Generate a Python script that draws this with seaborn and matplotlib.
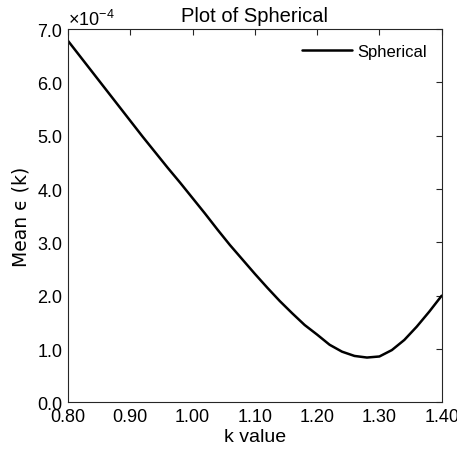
import numpy as np
import pandas as pd
import matplotlib
matplotlib.use("Agg")
import matplotlib.pyplot as plt
import seaborn as sns
from matplotlib.ticker import FuncFormatter, MultipleLocator

k_values = [0.80, 0.82, 0.84, 0.86, 0.88, 0.90, 0.92, 0.94, 0.96, 0.98,
            1.00, 1.02, 1.04, 1.06, 1.08, 1.10, 1.12, 1.14, 1.16, 1.18,
            1.20, 1.22, 1.24, 1.26, 1.28, 1.30, 1.32, 1.34, 1.36, 1.38, 1.40]
mean_eps_e4 = [6.78, 6.48, 6.18, 5.88, 5.58, 5.28, 4.98, 4.69, 4.40, 4.12,
               3.83, 3.54, 3.24, 2.95, 2.68, 2.41, 2.15, 1.90, 1.67, 1.45,
               1.27, 1.08, 0.95, 0.87, 0.84, 0.86, 0.98, 1.17, 1.42, 1.70, 2.00]
series_name = "Spherical"

df = pd.DataFrame({"k": k_values, "eps": np.array(mean_eps_e4) * 1e-4, "series": series_name})

sns.set_style("white")
plt.rcParams['font.family'] = ['Liberation Sans', 'DejaVu Sans']
plt.rcParams['mathtext.fontset'] = 'custom'
plt.rcParams['mathtext.rm'] = 'Liberation Sans'
plt.rcParams['text.color'] = 'black'
plt.rcParams['axes.labelcolor'] = 'black'

fig = plt.figure(figsize=(4.57, 4.56), dpi=100)
ax = fig.add_axes([0.1488, 0.1155, 0.8177, 0.8185])

sns.lineplot(data=df, x="k", y="eps", hue="series", palette=["black"],
             linewidth=1.8, ax=ax)

ax.set_xlim(0.8, 1.4)
ax.set_ylim(0, 7e-4)
ax.xaxis.set_major_locator(MultipleLocator(0.1))
ax.yaxis.set_major_locator(MultipleLocator(1e-4))
ax.xaxis.set_major_formatter(FuncFormatter(lambda v, p: f"{v:.2f}"))
ax.yaxis.set_major_formatter(FuncFormatter(lambda v, p: f"{v/1e-4:.1f}"))

axis_color = "#262626"
for s in ax.spines.values():
    s.set_visible(True)
    s.set_color(axis_color)
    s.set_linewidth(0.8)
ax.tick_params(axis="both", which="both", direction="in", top=True, right=True,
               length=4, width=0.8, color=axis_color, labelsize=13,
               labelcolor="black")
ax.tick_params(axis="x", pad=4)
ax.tick_params(axis="y", pad=4)

ax.set_xlabel("k value", fontsize=14, labelpad=2.5, color="black")
ax.set_ylabel("Mean \u03f5 (k)", fontsize=13.5, labelpad=5, color="black",
              family=['DejaVu Sans'])
ax.set_title("Plot of Spherical", fontsize=14.5, pad=6, color="black")
ax.text(0.0, 1.0, "\u00d7" + r"$\mathrm{10}^{-4}$", transform=ax.transAxes,
        fontsize=13, ha="left", va="bottom", color="black")

leg = ax.legend(loc="upper right", frameon=False, fontsize=12,
                handlelength=3.0, borderaxespad=0.5, handletextpad=0.3)
for line in leg.get_lines():
    line.set_linewidth(1.8)
for t in leg.get_texts():
    t.set_color("black")

fig.savefig("out.png", dpi=100)
